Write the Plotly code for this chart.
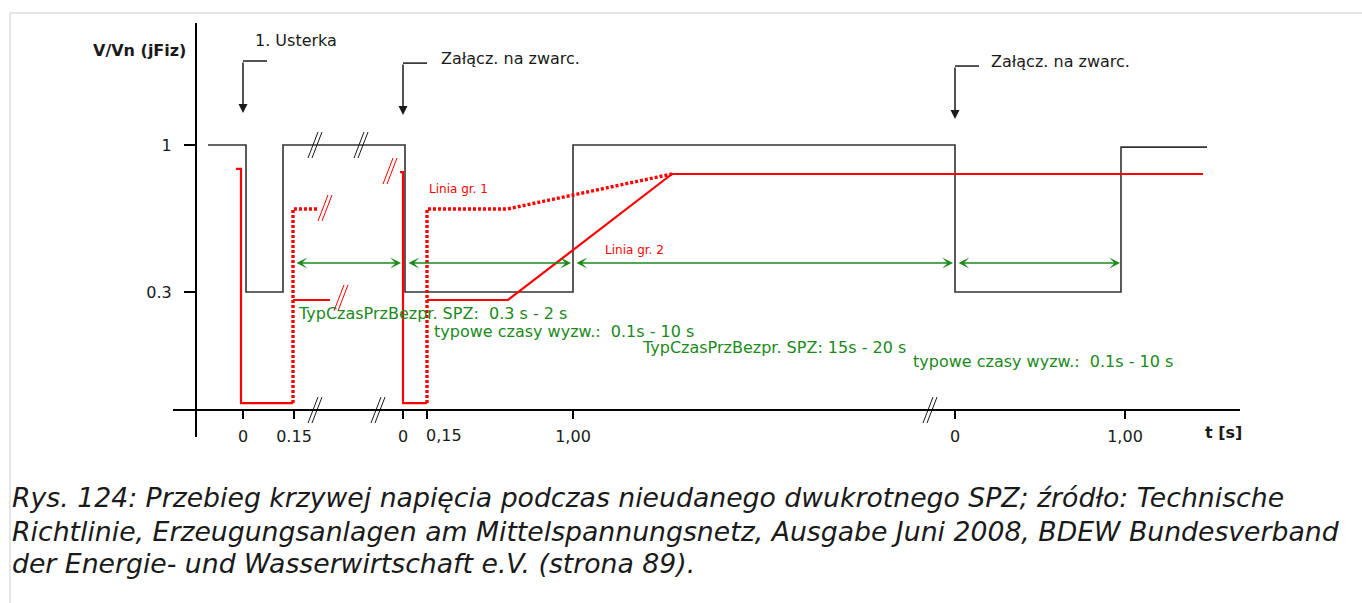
import plotly.graph_objects as go

FONT = "DejaVu Sans"
BLACK = "#1a1a1a"
RED = "#ff0000"
GREEN = "#1a8a1a"
W, H = 1362, 603

# vertical scale is V/Vn (1 -> 145 px, 0.3 -> 292 px); horizontal is schematic position
V0_PX, V_SCALE = 355, 210


def vy(py):
    # helper: picture row -> V/Vn value, used only for axis placement
    return (V0_PX - py) / V_SCALE


# black voltage curve
volt_x = [208, 246, 246, 283, 283, 405, 405, 573, 573, 955, 955, 1121, 1121, 1207]
volt_y = [1, 1, 0.3, 0.3, 1, 1, 0.3, 0.3, 1, 1, 0.3, 0.3, 0.99, 0.99]

# red limit curves
lim1_x = [236, 241, 241, 293]
lim1_y = [0.886, 0.886, -0.229, -0.229]
lim1_dot_x = [293, 293, 317]
lim1_dot_y = [-0.229, 0.695, 0.695]
lim1_low_x = [293, 330]
lim1_low_y = [0.262, 0.262]
lim2_x = [400, 403, 403, 427]
lim2_y = [0.871, 0.871, -0.229, -0.229]
lim2_dot_x = [427, 427, 507, 672]
lim2_dot_y = [-0.229, 0.695, 0.695, 0.862]
lim2_low_x = [427, 508, 672, 1203]
lim2_low_y = [0.262, 0.262, 0.862, 0.862]

# axis ticks ("0,15" sits to the right of its tick in the original, placed separately)
x_tickvals = [243, 294, 403, 427, 573, 955, 1125]
x_ticktext = ["0", "0.15", "0", "", "1,00", "0", "1,00"]
shifted_tick_x = 424
shifted_tick_text = "0,15"
y_tickvals = [0.3, 1]
y_ticktext = ["0.3", "1"]

# break marks "//"
black_break_x = [315, 361, 315, 378, 930]
black_break_y = [1.0, 1.0, -0.262, -0.262, -0.262]
red_break_x = [325, 390, 341]
red_break_y = [0.70, 0.876, 0.272]

# green time spans
span_from = [295, 407, 575, 957]
span_to = [401, 571, 953, 1120]
span_level = 0.438

green_labels = [
    "TypCzasPrzBezpr. SPZ:\u00a0 0.3 s - 2 s",
    "typowe czasy wyzw.:\u00a0 0.1s - 10 s",
    "TypCzasPrzBezpr. SPZ: 15s - 20 s",
    "typowe czasy wyzw.:\u00a0 0.1s - 10 s",
]
green_x = [296, 432, 640, 911]
green_y = [0.2, 0.114, 0.038, -0.033]

red_labels = ["Linia gr. 1", "Linia gr. 2"]
red_label_x = [427, 603]
red_label_y = [0.79, 0.50]

# events with leader arrows
event_x = [243, 403, 955]
event_labels = ["1. Usterka", "Załącz. na zwarc.", "Załącz. na zwarc."]
event_top = [1.400, 1.390, 1.376]
event_tip = [1.152, 1.143, 1.124]
event_label_x = [253, 439, 989]
event_label_y = [1.50, 1.414, 1.40]

caption_lines = [
    "Rys. 124: Przebieg krzywej napięcia podczas nieudanego dwukrotnego SPZ; źródło: Technische",
    "Richtlinie, Erzeugungsanlagen am Mittelspannungsnetz, Ausgabe Juni 2008, BDEW Bundesverband",
    "der Energie- und Wasserwirtschaft e.V. (strona 89).",
]
caption_rows = [497, 531, 563]

fig = go.Figure()


def add_line(x, y, color, width, dash="solid"):
    fig.add_trace(go.Scatter(x=x, y=y, mode="lines", hoverinfo="skip",
                             line=dict(color=color, width=width, dash=dash)))


add_line(volt_x, volt_y, "#333333", 1.6)
add_line(lim1_x, lim1_y, RED, 2.2)
add_line(lim1_low_x, lim1_low_y, RED, 2.2)
add_line(lim2_x, lim2_y, RED, 2.2)
add_line(lim2_low_x, lim2_low_y, RED, 2.2)
add_line(lim1_dot_x, lim1_dot_y, RED, 3.4, "3px,2px")
add_line(lim2_dot_x, lim2_dot_y, RED, 3.4, "3px,2px")


def breaks(xs, ys):
    bx, by = [], []
    dy = 13 / V_SCALE
    for cx, cy in zip(xs, ys):
        for off in (-2, 2):
            bx += [cx + off - 5, cx + off + 5, None]
            by += [cy - dy, cy + dy, None]
    return bx, by


bx, by = breaks(black_break_x, black_break_y)
add_line(bx, by, BLACK, 1)
bx, by = breaks(red_break_x, red_break_y)
add_line(bx, by, RED, 1)

# leader horizontal parts
lx, ly = [], []
for ex, et in zip(event_x, event_top):
    lx += [ex + 24, ex, None]
    ly += [et, et, None]
add_line(lx, ly, BLACK, 1.5)

for ex, et, tip in zip(event_x, event_top, event_tip):
    fig.add_annotation(x=ex, y=tip, ax=ex, ay=et, axref="x", ayref="y", text="",
                       showarrow=True, arrowhead=2, arrowsize=1.2, arrowwidth=1.5,
                       arrowcolor=BLACK, standoff=0)

for lab, lxp, lyp in zip(event_labels, event_label_x, event_label_y):
    fig.add_annotation(x=lxp, y=lyp, text=lab, showarrow=False, xanchor="left",
                       font=dict(family=FONT, size=16, color=BLACK))

for a, b in zip(span_from, span_to):
    fig.add_annotation(x=b, y=span_level, ax=a, ay=span_level, axref="x", ayref="y",
                       text="", showarrow=True, arrowside="end+start",
                       arrowhead=3, startarrowhead=3, arrowsize=1.2, startarrowsize=1.2,
                       arrowwidth=1.5, arrowcolor=GREEN, standoff=0, startstandoff=0)

for lab, gx, gy in zip(green_labels, green_x, green_y):
    fig.add_annotation(x=gx, y=gy, text=lab, showarrow=False, xanchor="left",
                       font=dict(family=FONT, size=16, color=GREEN))

for lab, rx, ry in zip(red_labels, red_label_x, red_label_y):
    fig.add_annotation(x=rx, y=ry, text=lab, showarrow=False, xanchor="left",
                       font=dict(family=FONT, size=12, color=RED))

# the off-centre tick label
fig.add_annotation(x=shifted_tick_x, y=1 - 435 / H, yref="paper", text=shifted_tick_text,
                   showarrow=False, xanchor="left", yanchor="middle",
                   font=dict(family=FONT, size=16, color=BLACK))

# axis arrow heads
fig.add_annotation(x=196, y=vy(22), ax=0, ay=16, text="", showarrow=True,
                   arrowhead=2, arrowsize=1, arrowwidth=2, arrowcolor="black", standoff=0)
fig.add_annotation(x=1241, y=vy(410), ax=-16, ay=0, text="", showarrow=True,
                   arrowhead=2, arrowsize=1, arrowwidth=2, arrowcolor="black", standoff=0)

# axis titles
fig.add_annotation(x=139 / W, y=1 - 51 / H, xref="paper", yref="paper", text="<b>V/Vn (jFiz)</b>",
                   showarrow=False, xanchor="center", yanchor="middle",
                   font=dict(family=FONT, size=16, color=BLACK))
fig.add_annotation(x=1223 / W, y=1 - 432 / H, xref="paper", yref="paper", text="<b>t [s]</b>",
                   showarrow=False, xanchor="center", yanchor="middle",
                   font=dict(family=FONT, size=16, color=BLACK))

for line, row in zip(caption_lines, caption_rows):
    fig.add_annotation(x=10 / W, y=1 - row / H, xref="paper", yref="paper", text="<i>" + line + "</i>",
                       showarrow=False, xanchor="left", yanchor="middle",
                       font=dict(family=FONT, size=26.7, color=BLACK))

# light frame round the picture
fig.add_shape(type="rect", xref="paper", yref="paper", x0=10 / W, x1=1.02, y0=-0.02, y1=1 - 13 / H,
              line=dict(color="#e6e6e6", width=2))

fig.update_layout(
    width=W, height=H, margin=dict(l=0, r=0, t=0, b=0),
    paper_bgcolor="white", plot_bgcolor="white", showlegend=False,
    xaxis=dict(domain=[173 / W, 1240 / W], range=[173, 1240], anchor="free", position=1 - 410 / H,
               showline=True, linecolor="black", linewidth=2, ticks="outside", ticklen=8,
               tickwidth=1.5, tickcolor="black", tickvals=x_tickvals, ticktext=x_ticktext,
               ticklabelstandoff=4, tickangle=0,
               tickfont=dict(family=FONT, size=16, color=BLACK), showgrid=False, zeroline=False,
               fixedrange=True),
    yaxis=dict(domain=[1 - 437 / H, 1 - 23 / H], range=[vy(437), vy(23)], anchor="free",
               position=196 / W, showline=True, linecolor="black", linewidth=2, ticks="outside",
               ticklen=11, tickwidth=1.5, tickcolor="black", tickvals=y_tickvals,
               ticktext=y_ticktext, ticklabelstandoff=9,
               tickfont=dict(family=FONT, size=16, color=BLACK),
               showgrid=False, zeroline=False, fixedrange=True),
)

fig.write_html("out.html", config={"displayModeBar": False},
               post_script="document.body.style.margin='0px';")
